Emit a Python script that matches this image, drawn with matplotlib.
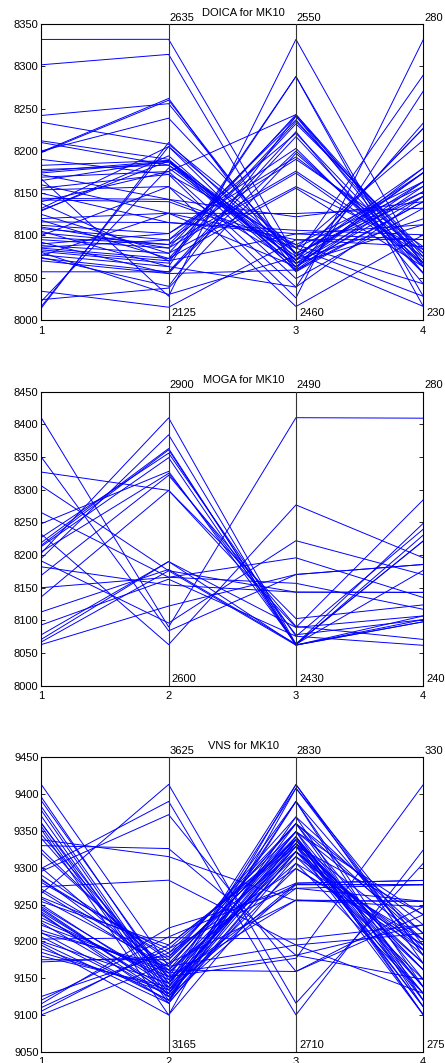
import matplotlib
matplotlib.use('Agg')
import numpy as np
import matplotlib.pyplot as plt
import matplotlib.transforms as mtransforms

plt.rcParams['font.family'] = ['Liberation Sans', 'DejaVu Sans']
plt.rcParams['font.size'] = 8

# DOICA for MK10 - one entry per solution, four objectives
doica_obj1 = [8332, 8302, 8242, 8234, 8212, 8210, 8199, 8198, 8200, 8183,
              8176, 8174, 8169, 8167, 8156, 8154, 8144, 8142, 8132, 8129,
              8120, 8116, 8112, 8108, 8103, 8095, 8088, 8085, 8083, 8081,
              8077, 8073, 8070, 8057, 8034, 8024, 8016, 8022, 8014, 8090,
              8086, 8098, 8110, 8125, 8118, 8160, 8172, 8150, 8138, 8105,
              8092, 8080, 8076, 8165, 8178, 8190, 8100, 8130, 8140, 8074]
doica_obj2 = [2609, 2583, 2498, 2428, 2402, 2392, 2507, 2504, 2473, 2400,
              2399, 2397, 2381, 2166, 2376, 2355, 2333, 2329, 2424, 2408,
              2309, 2293, 2274, 2263, 2255, 2249, 2240, 2231, 2227, 2223,
              2217, 2208, 2205, 2208, 2147, 2180, 2424, 2387, 2431, 2274,
              2263, 2255, 2249, 2240, 2231, 2309, 2333, 2293, 2227, 2217,
              2205, 2169, 2309, 2400, 2392, 2376, 2355, 2399, 2381, 2183]
doica_obj3 = [2479.3, 2475.4, 2478.0, 2481.9, 2476.2, 2478.3, 2474.7, 2477.2, 2480.3, 2475.2,
              2472.6, 2479.3, 2470.0, 2545.4, 2466.7, 2464.1, 2482.9, 2481.9, 2474.7, 2476.2,
              2484.4, 2486.2, 2512.2, 2516.8, 2520.9, 2522.0, 2522.5, 2520.4, 2519.7, 2534.1,
              2534.1, 2517.3, 2515.8, 2511.4, 2484.4, 2510.7, 2480.3, 2478.3, 2477.2, 2509.6,
              2508.9, 2505.3, 2504.7, 2500.6, 2500.1, 2492.4, 2491.4, 2487.3, 2486.2, 2470.0,
              2475.2, 2479.3, 2476.2, 2480.3, 2481.9, 2482.9, 2477.2, 2478.3, 2522.5, 2522.0]
doica_obj4 = [255.7, 263.3, 262.4, 260.4, 254.9, 253.4, 252.6, 251.7, 250.9, 250.0,
              248.9, 271.4, 268.7, 239.0, 277.4, 244.4, 253.4, 252.6, 250.0, 250.9,
              242.4, 246.1, 237.9, 239.0, 239.6, 240.1, 240.7, 241.3, 241.9, 232.3,
              234.0, 236.1, 237.9, 239.0, 243.6, 239.6, 251.7, 262.4, 254.9, 241.3,
              242.4, 240.7, 239.6, 241.9, 239.0, 248.9, 250.0, 244.4, 243.6, 250.9,
              253.4, 254.9, 255.7, 232.3, 234.0, 236.1, 246.1, 247.1, 239.6, 237.9]

# MOGA for MK10
moga_obj1 = [8410, 8350, 8327, 8306, 8265, 8248, 8232, 8227, 8219, 8215,
             8213, 8205, 8195, 8191, 8182, 8169, 8150, 8136, 8113, 8093,
             8078, 8071, 8067, 8063, 8203]
moga_obj2 = [2660, 2656, 2799.3, 2717.3, 2710.7, 2818.7, 2642, 2837.3, 2842, 2840.7,
             2832.7, 2816.7, 2856, 2664, 2702.7, 2814.7, 2710.7, 2799.3, 2718.7, 2708.7,
             2726.7, 2726.7, 2717.3, 2681.3, 2873.3]
moga_obj3 = [2484.7, 2452.7, 2441.9, 2449.1, 2450.9, 2438.5, 2466.9, 2440.1, 2438.3, 2438.5,
             2438.3, 2440.4, 2438.3, 2459.6, 2449.1, 2442.1, 2456.1, 2443.7, 2438.5, 2440.1,
             2438.3, 2441.9, 2438.3, 2452.7, 2438.5]
moga_obj4 = [276.4, 256.5, 265.3, 252.7, 250.4, 262.1, 257.4, 261.3, 260.5, 259.7,
             249.5, 249.0, 248.7, 255.1, 252.7, 246.3, 252.0, 251.0, 255.7, 245.5,
             249.0, 249.5, 248.7, 256.5, 259.7]

# VNS for MK10
vns_obj1 = [9413, 9396, 9391, 9383, 9378, 9370, 9361, 9356, 9352, 9345,
            9338, 9330, 9325, 9320, 9299, 9295, 9290, 9283, 9280, 9274,
            9271, 9265, 9260, 9254, 9250, 9247, 9245, 9240, 9236, 9232,
            9228, 9222, 9215, 9211, 9206, 9203, 9198, 9195, 9190, 9185,
            9175, 9172, 9125, 9120, 9115, 9110, 9105, 9100, 9360, 9340,
            9300, 9285, 9268, 9258, 9243, 9238, 9225, 9212, 9200, 9180]
vns_obj2 = [3298.4, 3272.0, 3277.7, 3261.6, 3255.9, 3251.3, 3245.5, 3240.9, 3222.5, 3282.3,
            3469.8, 3482.4, 3288.0, 3292.7, 3556.0, 3535.3, 3308.8, 3313.4, 3319.1, 3433.0,
            3303.0, 3582.5, 3326.0, 3331.8, 3266.2, 3272.0, 3255.9, 3261.6, 3251.3, 3277.7,
            3282.3, 3288.0, 3292.7, 3298.4, 3245.5, 3343.3, 3240.9, 3222.5, 3255.9, 3261.6,
            3308.8, 3313.4, 3319.1, 3344.4, 3358.2, 3326.0, 3331.8, 3303.0, 3266.2, 3272.0,
            3282.3, 3288.0, 3292.7, 3298.4, 3255.9, 3240.9, 3251.3, 3245.5, 3272.0, 3266.2]
vns_obj3 = [2803.0, 2799.7, 2797.6, 2796.4, 2794.9, 2793.7, 2791.6, 2818.9, 2817.4, 2812.0,
            2771.5, 2749.3, 2789.5, 2786.8, 2725.0, 2742.7, 2805.7, 2803.0, 2799.7, 2753.5,
            2797.6, 2729.8, 2796.4, 2794.9, 2793.7, 2791.6, 2784.7, 2778.7, 2778.1, 2776.6,
            2771.8, 2794.9, 2799.7, 2803.0, 2805.7, 2755.9, 2789.5, 2786.8, 2812.0, 2797.6,
            2796.4, 2791.6, 2784.7, 2778.7, 2776.6, 2778.1, 2793.7, 2771.8, 2817.4, 2818.9,
            2748.1, 2749.3, 2742.7, 2753.5, 2803.0, 2791.6, 2796.4, 2812.0, 2799.7, 2793.7]
vns_obj4 = [288.5, 287.1, 285.9, 284.6, 283.4, 281.9, 290.3, 291.5, 293.0, 294.0,
            303.1, 288.5, 294.9, 295.9, 312.7, 302.1, 297.1, 298.7, 300.6, 285.9,
            287.1, 310.2, 290.3, 291.5, 293.0, 294.0, 294.9, 307.0, 306.2, 306.2,
            303.1, 295.9, 297.1, 284.6, 283.4, 298.7, 288.5, 285.9, 287.1, 281.9,
            290.3, 291.5, 294.0, 307.0, 303.1, 306.2, 300.6, 302.1, 294.9, 293.0,
            324.9, 298.7, 300.6, 297.1, 295.9, 285.9, 283.4, 284.6, 281.9, 287.1]

# axis ranges written on axes 2-4 (low, high)
doica_ranges = [(2125, 2635), (2460, 2550), (230, 280)]
moga_ranges = [(2600, 2900), (2430, 2490), (240, 280)]
vns_ranges = [(3165, 3625), (2710, 2830), (275, 330)]


def to_common_scale(values, lo, hi, ylim):
    v = np.asarray(values, dtype=float)
    return ylim[0] + (v - lo) / (hi - lo) * (ylim[1] - ylim[0])


def draw_panel(fig, rect, title, objs, ranges, ylim):
    ax = fig.add_axes(rect)
    cols = [np.asarray(objs[0], dtype=float)]
    for vals, (lo, hi) in zip(objs[1:], ranges):
        cols.append(to_common_scale(vals, lo, hi, ylim))
    x = np.arange(1, 5)
    ax.plot(x, np.vstack(cols), color='#0000ff', lw=0.7)

    for xv in (2, 3):
        ax.axvline(xv, color='0.2', lw=0.8, zorder=3)

    ax.set_xlim(1, 4)
    ax.set_ylim(*ylim)
    ax.set_xticks(x)
    ax.set_yticks(np.arange(ylim[0], ylim[1] + 1, 50))
    ax.tick_params(direction='in', length=3, width=0.6, right=True, top=True,
                   labelsize=8, colors='black')
    ax.tick_params(axis='y', pad=2)
    ax.tick_params(axis='x', pad=4)
    for sp in ax.spines.values():
        sp.set_linewidth(0.8)
        sp.set_color('black')

    top_tr = mtransforms.offset_copy(ax.get_xaxis_transform(), fig=fig, x=0.7, y=1.0, units='points')
    bot_tr = mtransforms.offset_copy(ax.get_xaxis_transform(), fig=fig, x=2.2, y=1.2, units='points')
    for xv, (lo, hi) in zip((2, 3, 4), ranges):
        ax.text(xv, 1.0, str(hi), transform=top_tr, ha='left', va='bottom', fontsize=8)
        ax.text(xv, 0.0, str(lo), transform=bot_tr, ha='left', va='bottom', fontsize=8)

    ax.set_title(title, x=0.53, pad=6, fontsize=8)
    return ax


def main():
    fig = plt.figure(figsize=(4.45, 10.63), dpi=100)
    draw_panel(fig, [0.0928, 0.6990, 0.8584, 0.2782], 'DOICA for MK10',
               [doica_obj1, doica_obj2, doica_obj3, doica_obj4], doica_ranges, (8000, 8350))
    draw_panel(fig, [0.0928, 0.3549, 0.8584, 0.2766], 'MOGA for MK10',
               [moga_obj1, moga_obj2, moga_obj3, moga_obj4], moga_ranges, (8000, 8450))
    draw_panel(fig, [0.0928, 0.0106, 0.8584, 0.2770], 'VNS for MK10',
               [vns_obj1, vns_obj2, vns_obj3, vns_obj4], vns_ranges, (9050, 9450))
    fig.savefig('out.png', dpi=100, facecolor='white')


main()
